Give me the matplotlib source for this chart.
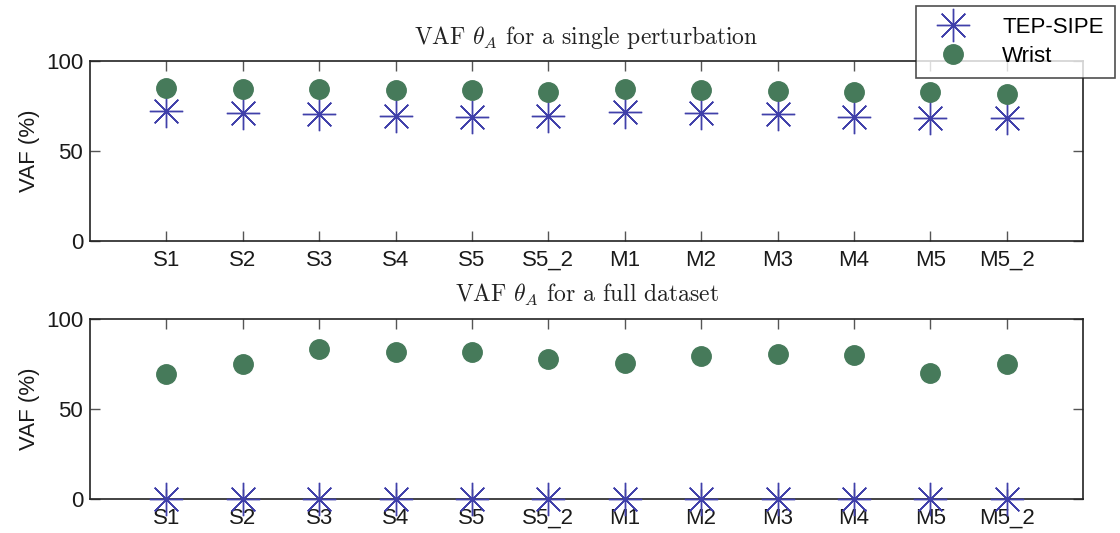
import matplotlib
matplotlib.use('Agg')
import matplotlib.pyplot as plt
from matplotlib.lines import Line2D

plt.rcParams['font.family'] = ['Liberation Sans', 'DejaVu Sans']
plt.rcParams['mathtext.fontset'] = 'cm'

subjects = ['S1', 'S2', 'S3', 'S4', 'S5', 'S5_2', 'M1', 'M2', 'M3', 'M4', 'M5', 'M5_2']
# single perturbation
tep_single = [72.3, 70.9, 70.5, 69.4, 68.8, 69.6, 71.8, 71.2, 70.5, 68.8, 68.3, 68.3]
wrist_single = [84.8, 84.4, 84.2, 83.9, 83.9, 82.9, 84.2, 83.9, 83.3, 82.8, 82.8, 81.6]
# full dataset
tep_full = [0, 0, 0, 0, 0, 0, 0, 0, 0, 0, 0, 0]
wrist_full = [69.4, 75.0, 83.3, 81.7, 81.7, 77.8, 75.6, 79.4, 80.5, 80.0, 69.8, 75.0]

titles = [r'VAF $\theta_A$ for a single perturbation', r'VAF $\theta_A$ for a full dataset']

tep_col = '#4040aa'
wrist_col = '#467a5a'

fig = plt.figure(figsize=(11.2, 5.33), dpi=100)
ax1 = fig.add_axes([0.0804, 0.5484, 0.8866, 0.337])
ax2 = fig.add_axes([0.0804, 0.0638, 0.8866, 0.3377])

x = list(range(1, len(subjects) + 1))
for ax, tep, wrist, title in [(ax1, tep_single, wrist_single, titles[0]),
                              (ax2, tep_full, wrist_full, titles[1])]:
    ax.plot(x, tep, linestyle='none', marker=(8, 2, 0), markersize=24,
            markeredgewidth=1.0, color=tep_col, clip_on=False, zorder=3)
    ax.plot(x, wrist, linestyle='none', marker='o', markersize=14,
            color=wrist_col, markeredgecolor=wrist_col, clip_on=False, zorder=3)
    ax.set_xlim(0, 13)
    ax.set_ylim(0, 100)
    ax.set_yticks([0, 50, 100])
    ax.set_xticks(x)
    ax.set_xticklabels(subjects, va='baseline')
    ax.tick_params(direction='in', length=7, width=1.0, labelsize=16,
                   top=True, right=True, color='#555555', labelcolor='#1a1a1a', pad=5)
    ax.tick_params(axis='x', pad=18)
    for s in ax.spines.values():
        s.set_linewidth(1.2)
        s.set_color('#222222')
    ax.set_ylabel('VAF (%)', fontsize=16, labelpad=4, color='#1a1a1a')
    ax.set_title(title, fontsize=17, family='cmr10', pad=12, color='#222222')

handles = [Line2D([], [], linestyle='none', marker=(8, 2, 0), markersize=24,
                  markeredgewidth=1.0, color=tep_col),
           Line2D([], [], linestyle='none', marker='o', markersize=14, color=wrist_col)]
leg = fig.legend(handles, ['TEP-SIPE', 'Wrist'], loc='upper right',
                 bbox_to_anchor=(0.9955, 0.989), borderaxespad=0, fontsize=16,
                 frameon=True, fancybox=False, edgecolor='#222222', borderpad=0.5,
                 labelspacing=0.35, handlelength=2.4, handletextpad=1.0)
leg.get_frame().set_linewidth(1.2)

fig.savefig('out.png', dpi=100)
